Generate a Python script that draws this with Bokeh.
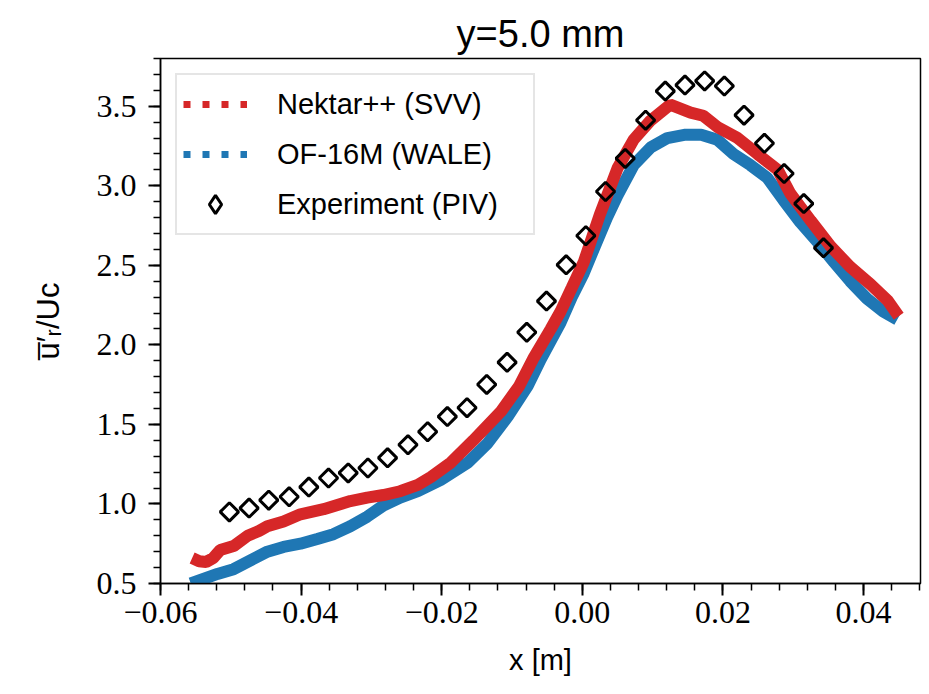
import numpy as np
from bokeh.plotting import figure
from bokeh.models import Range1d, SingleIntervalTicker, CustomJSTickFormatter, Legend, LegendItem
from bokeh.embed import file_html
from bokeh.resources import INLINE

# ---- data ----
x_nektar = [-0.0555, -0.0545, -0.0535, -0.0525, -0.0515, -0.0496, -0.0476, -0.0460, -0.0448,
            -0.0425, -0.0401, -0.0368, -0.0330, -0.0306, -0.0283, -0.0259, -0.0234, -0.0215,
            -0.0187, -0.0155, -0.0116, -0.0090, -0.0069, -0.0045, -0.0031, -0.0015, 0.0002,
            0.0025, 0.0050, 0.0073, 0.0097, 0.0125, 0.0154, 0.0172, 0.0192, 0.0221, 0.0249,
            0.0278, 0.0296, 0.0325, 0.0353, 0.0381, 0.0410, 0.0434, 0.0450]
y_nektar = [0.66, 0.64, 0.635, 0.66, 0.71, 0.735, 0.80, 0.83, 0.86,
            0.89, 0.935, 0.967, 1.018, 1.04, 1.056, 1.08, 1.12, 1.17,
            1.26, 1.40, 1.58, 1.74, 1.92, 2.10, 2.21, 2.36, 2.52,
            2.82, 3.11, 3.29, 3.41, 3.51, 3.46, 3.44, 3.37, 3.30, 3.20,
            3.10, 2.95, 2.78, 2.62, 2.49, 2.38, 2.28, 2.18]

x_of = [-0.0557, -0.0519, -0.0496, -0.0472, -0.0448, -0.0425, -0.0401, -0.0377, -0.0354,
        -0.0330, -0.0306, -0.0283, -0.0259, -0.0234, -0.0202, -0.0163, -0.0135, -0.0106,
        -0.0078, -0.0059, -0.0031, -0.0015, 0.0002, 0.0016, 0.0035, 0.0050, 0.0073, 0.0097,
        0.0121, 0.0145, 0.0169, 0.0192, 0.0215, 0.0239, 0.0263, 0.0286, 0.0310, 0.0334,
        0.0358, 0.0381, 0.0405, 0.0428, 0.0448]
y_of = [0.50, 0.56, 0.59, 0.645, 0.70, 0.73, 0.75, 0.78, 0.81,
        0.86, 0.92, 0.99, 1.04, 1.08, 1.15, 1.26, 1.38, 1.55,
        1.74, 1.91, 2.14, 2.30, 2.45, 2.60, 2.80, 2.94, 3.13, 3.24,
        3.30, 3.32, 3.32, 3.29, 3.20, 3.13, 3.05, 2.91, 2.77, 2.65,
        2.52, 2.40, 2.29, 2.21, 2.16]

x_exp = [-0.0502, -0.0474, -0.0446, -0.0417, -0.0389, -0.0361, -0.0333, -0.0305, -0.0277,
         -0.0248, -0.0220, -0.0192, -0.0164, -0.0136, -0.0107, -0.0079, -0.0051, -0.0023,
         0.0005, 0.0033, 0.0061, 0.0090, 0.0118, 0.0146, 0.0174, 0.0202, 0.0230, 0.0259,
         0.0287, 0.0315, 0.0343]
y_exp = [0.95, 0.974, 1.024, 1.045, 1.106, 1.163, 1.195, 1.226, 1.29,
         1.372, 1.454, 1.549, 1.605, 1.751, 1.89, 2.079, 2.275, 2.503,
         2.686, 2.964, 3.172, 3.412, 3.595, 3.633, 3.659, 3.627, 3.444, 3.267,
         3.077, 2.888, 2.61]

labels = ["Nektar++ (SVV)", "OF-16M (WALE)", "Experiment (PIV)"]
RED = "#d62728"
BLUE = "#1f77b4"

SANS = "Liberation Sans"
SERIF = "Liberation Serif"

p = figure(width=929, height=694, output_backend="svg", toolbar_location=None,
           x_range=Range1d(-0.06, 0.0481), y_range=Range1d(0.5, 3.8),
           min_border_left=160, min_border_right=9, min_border_top=58, min_border_bottom=111,
           title="y=5.0 mm")
p.title.align = "center"
p.title.text_font = SANS
p.title.text_font_size = "38px"
p.title.text_font_style = "normal"
p.title.text_color = "black"
p.title.standoff = 8

p.xgrid.visible = False
p.ygrid.visible = False
p.outline_line_color = "black"
p.outline_line_width = 1.5
p.outline_line_alpha = 1.0
p.background_fill_color = "white"
p.border_fill_color = "white"

# data renderers
p.line(x_of, y_of, line_color=BLUE, line_width=12)
p.line(x_nektar, y_nektar, line_color=RED, line_width=12)
p.scatter(x_exp, y_exp, marker="square", angle=np.pi / 4, size=13,
          fill_color=None, line_color="black", line_width=3)

# legend-only renderers (a single NaN point, never drawn in the plot)
nan = [float("nan")]
r_n = p.line(nan, nan, line_color=RED, line_width=7, line_dash="7 12")
r_o = p.line(nan, nan, line_color=BLUE, line_width=7, line_dash="7 12")
r_e = p.scatter(nan, nan, marker="diamond", size=13,
                fill_color=None, line_color="black", line_width=3)

legend = Legend(items=[LegendItem(label=labels[0], renderers=[r_n]),
                       LegendItem(label=labels[1], renderers=[r_o]),
                       LegendItem(label=labels[2], renderers=[r_e])],
                location="top_left")
legend.label_text_font = SANS
legend.label_text_font_size = "29px"
legend.label_text_color = "black"
legend.glyph_width = 64
legend.glyph_height = 46
legend.label_height = 30
legend.label_width = 250
legend.label_standoff = 30
legend.spacing = 4
legend.padding = 6
legend.margin = 15
legend.border_line_color = "#cccccc"
legend.border_line_width = 2
legend.background_fill_alpha = 0.8
p.add_layout(legend)

fmt = CustomJSTickFormatter(code="""
    const d = (Math.abs(tick) < 1e-9) ? 0 : tick;
    return d.toFixed(2).replace('-', '\\u2212');
""")
fmty = CustomJSTickFormatter(code="""
    const d = (Math.abs(tick) < 1e-9) ? 0 : tick;
    return d.toFixed(1).replace('-', '\\u2212');
""")

p.xaxis.ticker = SingleIntervalTicker(interval=0.02, num_minor_ticks=5)
p.yaxis.ticker = SingleIntervalTicker(interval=0.5, num_minor_ticks=5)
p.xaxis.formatter = fmt
p.yaxis.formatter = fmty

for ax in (p.xaxis[0], p.yaxis[0]):
    ax.axis_line_color = "black"
    ax.axis_line_width = 1.5
    ax.major_tick_line_color = "black"
    ax.major_tick_line_width = 2
    ax.minor_tick_line_color = "black"
    ax.minor_tick_line_width = 1.5
    ax.major_tick_in = 0
    ax.major_tick_out = 12
    ax.minor_tick_in = 0
    ax.minor_tick_out = 7
    ax.major_label_text_font = SERIF
    ax.major_label_text_font_size = "32px"
    ax.major_label_text_color = "black"
    ax.axis_label_text_font = SANS
    ax.axis_label_text_font_size = "29px"
    ax.axis_label_text_font_style = "normal"
    ax.axis_label_text_color = "black"

p.xaxis.axis_label = "x [m]"
p.xaxis.major_label_standoff = 6
p.xaxis.axis_label_standoff = 18
p.yaxis.axis_label = "u\u0305\u2032\u1d63/Uc"
p.yaxis.axis_label_text_font_size = "31px"
p.yaxis.major_label_standoff = 12
p.yaxis.axis_label_standoff = 28

open("out.html", "w").write(file_html(p, INLINE))
